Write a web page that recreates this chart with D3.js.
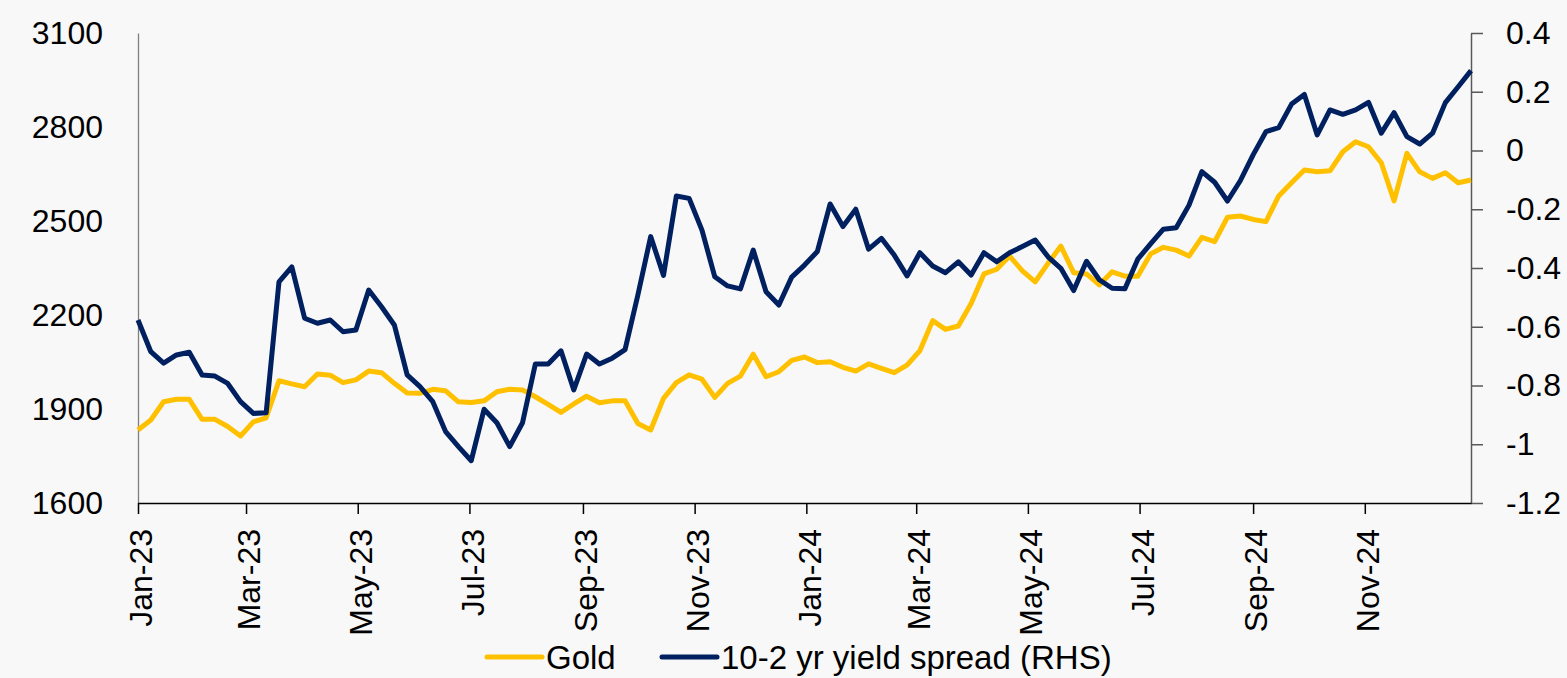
<!DOCTYPE html>
<html>
<head>
<meta charset="utf-8">
<script src="https://cdn.jsdelivr.net/npm/d3@7"></script>
<style>
body { margin: 0; background: #f8f8f8; }
svg { display: block; font-family: "Liberation Sans", Arial, sans-serif; }
</style>
</head>
<body>
<div class="canvas"></div>
<script>
// weekly values, Jan-23 .. Dec-24
const gold = [1833, 1865, 1923, 1931, 1931, 1867, 1867, 1844, 1814, 1859,
  1872, 1990, 1980, 1971, 2012, 2008, 1984, 1993, 2021, 2016,
  1982, 1951, 1950, 1963, 1958, 1923, 1921, 1926, 1955, 1963,
  1961, 1939, 1915, 1889, 1916, 1941, 1920, 1926, 1926, 1854,
  1833, 1934, 1984, 2009, 1995, 1937, 1982, 2005, 2075, 2003,
  2019, 2055, 2066, 2048, 2051, 2033, 2021, 2044, 2030, 2016,
  2040, 2086, 2182, 2154, 2165, 2237, 2331, 2346, 2388, 2341,
  2306, 2365, 2420, 2335, 2331, 2296, 2338, 2324, 2324, 2395,
  2416, 2407, 2388, 2448, 2434, 2512, 2516, 2505, 2498, 2580,
  2622, 2663, 2657, 2660, 2721, 2753, 2737, 2686, 2564, 2716,
  2657, 2636, 2654, 2622, 2631];

const spread = [-0.577, -0.685, -0.724, -0.696, -0.687, -0.764, -0.768, -0.793, -0.855, -0.895,
  -0.893, -0.447, -0.396, -0.571, -0.588, -0.577, -0.617, -0.611, -0.475, -0.532,
  -0.594, -0.764, -0.804, -0.855, -0.957, -1.008, -1.056, -0.881, -0.927, -1.008,
  -0.927, -0.727, -0.727, -0.682, -0.815, -0.693, -0.727, -0.707, -0.678, -0.492,
  -0.293, -0.425, -0.155, -0.163, -0.271, -0.430, -0.461, -0.471, -0.339, -0.481,
  -0.526, -0.431, -0.390, -0.344, -0.182, -0.259, -0.200, -0.336, -0.299, -0.356,
  -0.427, -0.348, -0.393, -0.416, -0.379, -0.424, -0.348, -0.379, -0.348, -0.327,
  -0.305, -0.362, -0.401, -0.477, -0.377, -0.440, -0.469, -0.471, -0.370, -0.318,
  -0.268, -0.263, -0.186, -0.072, -0.108, -0.172, -0.103, -0.015, 0.064, 0.078,
  0.158, 0.191, 0.053, 0.138, 0.123, 0.138, 0.164, 0.059, 0.129, 0.047,
  0.022, 0.059, 0.163, 0.217, 0.272];

const goldTicks = [1600, 1900, 2200, 2500, 2800, 3100];
const spreadTicks = [-1.2, -1, -0.8, -0.6, -0.4, -0.2, 0, 0.2, 0.4];
const seriesNames = ['Gold', '10-2 yr yield spread (RHS)'];
const seriesColors = ['#ffc000', '#002060'];

const startDate = new Date(2023, 0, 1);
const dates = gold.map((d, i) => d3.timeDay.offset(startDate, i * 7));

const dims = {width: 1567, height: 678};
const plot = {left: 138, right: 1471, top: 33, bottom: 503};
const fontSize = '32px';

const svg = d3.select('.canvas')
  .append('svg')
  .attr('width', dims.width)
  .attr('height', dims.height);

const x = d3.scaleTime()
  .domain([dates[0], dates[dates.length - 1]])
  .range([plot.left, plot.right]);

const yL = d3.scaleLinear().domain([1600, 3100]).range([plot.bottom, plot.top]);
const yR = d3.scaleLinear().domain([-1.2, 0.4]).range([plot.bottom, plot.top]);

// left axis
const leftAxis = svg.append('g')
  .attr('transform', `translate(${plot.left},0)`)
  .call(d3.axisLeft(yL).tickValues(goldTicks).tickSize(0).tickPadding(35).tickFormat(d3.format('d')));
leftAxis.select('.domain').attr('stroke', '#7f7f7f').attr('stroke-width', 1.3);

// right axis
const rightAxis = svg.append('g')
  .attr('transform', `translate(${plot.right},0)`)
  .call(d3.axisRight(yR).tickValues(spreadTicks).tickSize(12).tickSizeOuter(0).tickPadding(23)
    .tickFormat(d => String(+d.toFixed(1))));
rightAxis.select('.domain').attr('stroke', '#595959').attr('stroke-width', 1.5);
rightAxis.selectAll('.tick line').attr('stroke', '#595959').attr('stroke-width', 1.5);

// bottom axis
const xTicks = d3.timeMonth.every(2).range(new Date(2023, 0, 1), new Date(2024, 11, 2));
const bottomAxis = svg.append('g')
  .attr('transform', `translate(0,${plot.bottom})`)
  .call(d3.axisBottom(x).tickValues(xTicks).tickSize(11).tickSizeOuter(0)
    .tickFormat(d3.timeFormat('%b-%y')));
bottomAxis.select('.domain').attr('stroke', '#000').attr('stroke-width', 1.5);
bottomAxis.selectAll('.tick line').attr('stroke', '#000').attr('stroke-width', 1.5);
bottomAxis.selectAll('.tick text')
  .attr('transform', 'rotate(-90)')
  .attr('x', -26)
  .attr('y', 2.5)
  .attr('dy', '0.35em')
  .attr('text-anchor', 'end');

svg.selectAll('.tick text')
  .attr('fill', '#000')
  .style('font-size', fontSize)
  .style('font-family', '"Liberation Sans", Arial, sans-serif');

// lines
const goldLine = d3.line().x((d, i) => x(dates[i])).y(d => yL(d));
const spreadLine = d3.line().x((d, i) => x(dates[i])).y(d => yR(d));

svg.append('path')
  .datum(gold)
  .attr('fill', 'none')
  .attr('stroke', seriesColors[0])
  .attr('stroke-width', 5)
  .attr('stroke-linejoin', 'round')
  .attr('d', goldLine);

svg.append('path')
  .datum(spread)
  .attr('fill', 'none')
  .attr('stroke', seriesColors[1])
  .attr('stroke-width', 5)
  .attr('stroke-linejoin', 'round')
  .attr('d', spreadLine);

// legend
const legendX = [487, 662];
const legend = svg.selectAll('.legend')
  .data(seriesNames)
  .enter()
  .append('g')
  .attr('class', 'legend')
  .attr('transform', (d, i) => `translate(${legendX[i]}, 657)`);

legend.append('line')
  .attr('x1', 0).attr('x2', 55)
  .attr('stroke', (d, i) => seriesColors[i])
  .attr('stroke-width', 5)
  .attr('stroke-linecap', 'round');

legend.append('text')
  .attr('x', 59)
  .attr('dy', '0.35em')
  .attr('fill', '#000')
  .style('font-size', '33px')
  .text(d => d);
</script>
</body>
</html>
